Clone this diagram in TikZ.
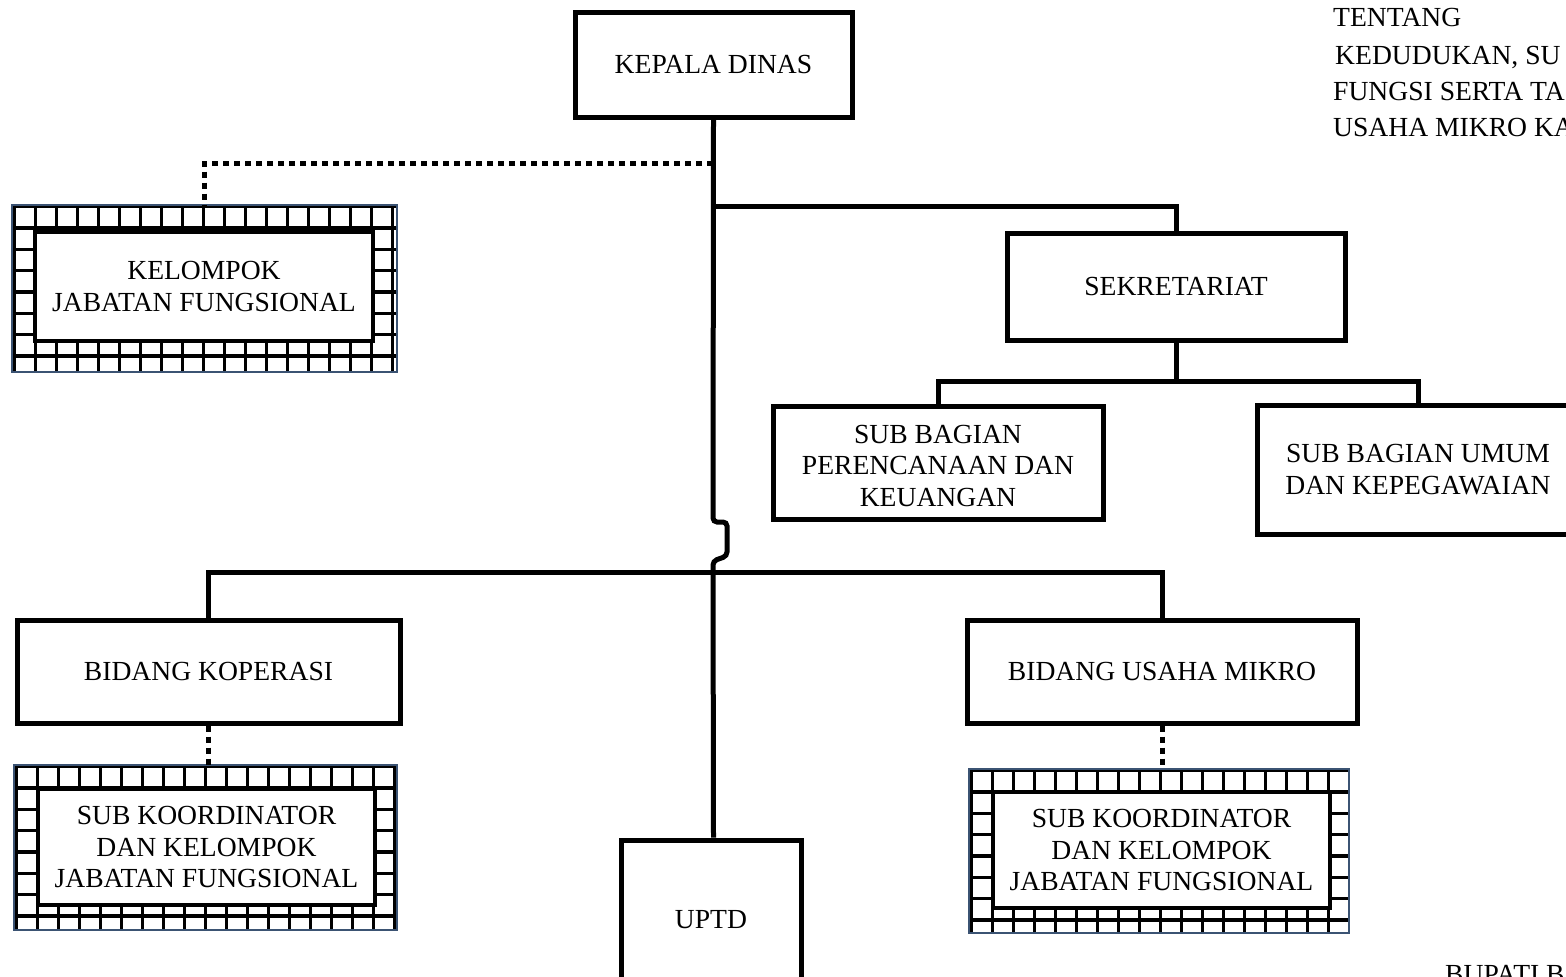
\documentclass[tikz,border=0pt]{standalone}
\usepackage{fontspec}
\setmainfont{Liberation Serif}
\usetikzlibrary{calc}
\definecolor{frameblue}{HTML}{3B5373}
\newcommand{\lbl}{\fontsize{27.6}{31.5}\selectfont}
\tikzset{
  box/.style={draw, line width=5pt, align=center, inner sep=0pt, font=\lbl},
  boxtext/.style={align=center, inner sep=0pt, font=\lbl},
  conn/.style={line width=5pt},
  dotconn/.style={line width=5pt, dash pattern=on 6pt off 5pt},
  hatchouter/.style={inner sep=0pt},
  hatchinner/.style={draw, fill=white, line width=4.5pt, align=center, inner sep=0pt, font=\lbl},
  gridline/.style={line width=3.3pt},
  plaintext/.style={anchor=base west, inner sep=0pt, font=\lbl},
}
\newcommand{\hatchgrid}[1]{%
  \begin{scope}
    \clip (#1.south west) rectangle (#1.north east);
    \foreach \i in {0,...,19}{\draw[gridline] ($(#1.north west)+(3+21*\i,-10)$) -- ++(0,200);}
    \foreach \j in {0,...,8}{\draw[gridline] ($(#1.north west)+(-10,2+21.3*\j)$) -- ++(420,0);}
  \end{scope}
  \draw[frameblue, line width=2pt] (#1.south west) rectangle (#1.north east);
}
\begin{document}
\begin{tikzpicture}[x=1pt,y=-1pt]
\useasboundingbox (0,0) rectangle (1566,977);

% main boxes
\node[box, minimum width=277pt, minimum height=105pt] (kd) at (713.5,64.5) {KEPALA DINAS};
\node[box, minimum width=338pt, minimum height=107pt] (sek) at (1176,286.5) {SEKRETARIAT};
\node[box, minimum width=330pt, minimum height=113pt] (sbp) at (938,462.5) {};
\node[boxtext] (sbpt) at ($(sbp.center)+(0,3)$) {SUB BAGIAN\\PERENCANAAN DAN\\KEUANGAN};
\node[box, minimum width=322pt, minimum height=129pt] (sbu) at (1418,469.5) {SUB BAGIAN UMUM\\DAN KEPEGAWAIAN};
\node[box, minimum width=383pt, minimum height=103pt] (bk) at (208.5,671.5) {BIDANG KOPERASI};
\node[box, minimum width=390pt, minimum height=103pt] (bum) at (1162,671.5) {BIDANG USAHA MIKRO};
\node[box, minimum width=180pt, minimum height=160pt] (uptd) at (711,920) {UPTD};

% hatched boxes
\node[hatchouter, minimum width=385pt, minimum height=167pt] (kjfo) at (204.5,288.5) {};
\hatchgrid{kjfo}
\node[hatchinner, minimum width=338pt, minimum height=109pt] (kjf) at (204,286.5) {KELOMPOK\\JABATAN FUNGSIONAL};

\node[hatchouter, minimum width=383pt, minimum height=165pt] (sk1o) at (205.5,847.5) {};
\hatchgrid{sk1o}
\node[hatchinner, minimum width=337pt, minimum height=116pt] (sk1) at (206.5,847) {SUB KOORDINATOR\\DAN KELOMPOK\\JABATAN FUNGSIONAL};

\node[hatchouter, minimum width=380pt, minimum height=164pt] (sk2o) at (1159,851) {};
\hatchgrid{sk2o}
\node[hatchinner, minimum width=337pt, minimum height=116pt] (sk2) at (1161.5,850) {SUB KOORDINATOR\\DAN KELOMPOK\\JABATAN FUNGSIONAL};

% junction coordinates
\coordinate (jdot) at (713,163);
\coordinate (jsek) at (713,206);
\coordinate (jog1) at (713,522);
\coordinate (jog2) at (727,522);
\coordinate (jog3) at (727,556);
\coordinate (jog4) at (713,561);
\coordinate (bus) at (713,572);
\coordinate (sbus) at (1176,381);

% connectors
\draw[conn, rounded corners=4pt] (kd.south) -- (jog1) -- (jog2) -- (jog3) -- (jog4) -- (kd.south |- uptd.north);
\draw[conn] (jsek) -| (sek.north);
\draw[conn] (sek.south) -- (sbus);
\draw[conn] (sbp.north) |- (sbus) -| (sbu.north);
\draw[conn] (bk.north) |- (bus) -| (bum.north);
\draw[dotconn] (jdot) -| (kjfo.north);
\draw[dotconn] (bk.south) -- (bk.south |- sk1o.north);
\draw[dotconn] (bum.south) -- (bum.south |- sk2o.north);

% header and footer text
\node[plaintext] (t1) at (1333,27) {TENTANG};
\node[plaintext] (t2) at (1335,64) {KEDUDUKAN, SU};
\node[plaintext] (t3) at (1333,100) {FUNGSI SERTA TA};
\node[plaintext] (t4) at (1333,136) {USAHA MIKRO KA};
\node[plaintext] (t5) at (1445,983) {BUPATI B};
\end{tikzpicture}
\end{document}
